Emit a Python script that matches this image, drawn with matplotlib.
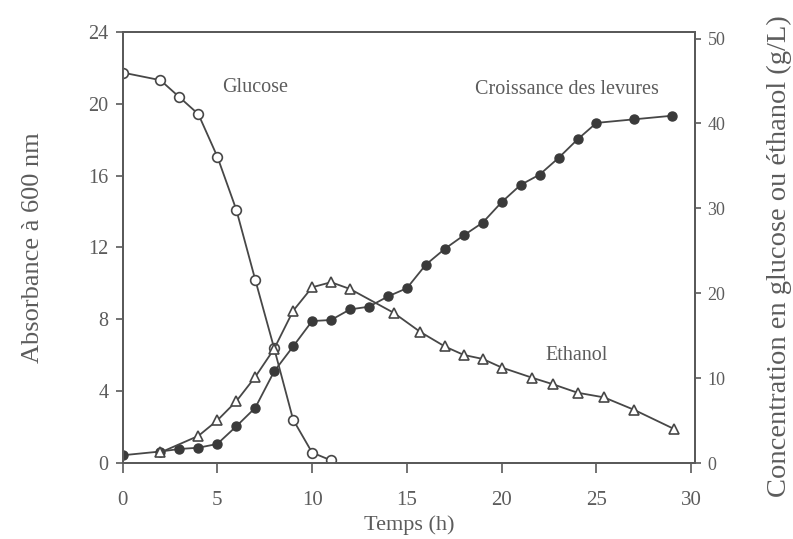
"""Cinétique de fermentation : croissance des levures, glucose et éthanol."""

import matplotlib

matplotlib.use("Agg")
import matplotlib.pyplot as plt

# Croissance des levures (absorbance à 600 nm, axe de gauche).
temps_levures = [0, 2, 3, 4, 5, 6, 7, 8, 9, 10, 11, 12, 13, 14, 15, 16, 17, 18,
                 19, 20, 21, 22, 23, 24, 25, 27, 29]
absorbance = [0.43, 0.64, 0.78, 0.85, 1.06, 2.04, 3.07, 5.1, 6.49, 7.9, 7.96,
              8.55, 8.7, 9.27, 9.73, 11.04, 11.92, 12.67, 13.38, 14.52, 15.48,
              16.05, 16.98, 18.01, 18.93, 19.13, 19.33]

# Glucose (g/L, axe de droite).
temps_glucose = [0, 2, 3, 4, 5, 6, 7, 8, 9, 10, 11]
glucose = [46.0, 45.1, 43.1, 41.1, 36.1, 29.85, 21.6, 13.5, 5.1, 1.23, 0.31]

# Ethanol (g/L, axe de droite).
temps_ethanol = [2, 4, 5, 6, 7, 8, 9, 10, 11, 12, 14.3, 15.7, 17, 18, 19, 20,
                 21.6, 22.7, 24, 25.4, 27, 29.1]
ethanol = [1.24, 3.19, 5.02, 7.27, 10.14, 13.46, 17.93, 20.7, 21.3, 20.5, 17.7,
           15.45, 13.73, 12.73, 12.26, 11.25, 10.05, 9.28, 8.28, 7.73, 6.25, 4.0]

FONT = ["Liberation Serif", "DejaVu Serif"]
TEXT_COLOR = "#5c5c5c"
LINE_COLOR = "#474747"
AXIS_COLOR = "#5a5a5a"

fig = plt.figure(figsize=(7.93, 5.39), dpi=100)
ax = fig.add_axes([0.1545, 0.141, 0.722, 0.80])
ax2 = ax.twinx()

# Courbe de croissance (disques pleins).
ax.plot(temps_levures, absorbance, color=LINE_COLOR, linewidth=1.3, marker="o",
        markersize=6.5, markerfacecolor="#3a3a3a", markeredgecolor="#3a3a3a")

# Glucose (cercles vides) et éthanol (triangles vides).
ax2.plot(temps_glucose, glucose, color=LINE_COLOR, linewidth=1.3, marker="o",
         markersize=7, markerfacecolor="white", markeredgecolor=LINE_COLOR,
         markeredgewidth=1.2)
ax2.plot(temps_ethanol, ethanol, color=LINE_COLOR, linewidth=1.3, marker="^",
         markersize=7.5, markerfacecolor="white", markeredgecolor=LINE_COLOR,
         markeredgewidth=1.2)

ax.set_xlim(0, 30.2)
ax.set_ylim(0, 24)
ax2.set_ylim(0, 50.8)
ax.set_xticks([0, 5, 10, 15, 20, 25, 30])
ax.set_yticks([0, 4, 8, 12, 16, 20, 24])
ax2.set_yticks([0, 10, 20, 30, 40, 50])

for a in (ax, ax2):
    for spine in a.spines.values():
        spine.set_color(AXIS_COLOR)
        spine.set_linewidth(1.4)
    a.tick_params(colors=AXIS_COLOR, labelcolor=TEXT_COLOR, length=5, width=1.2)
    for lab in a.get_xticklabels() + a.get_yticklabels():
        lab.set_fontfamily(FONT)

ax.tick_params(axis="y", labelsize=14.5, pad=5)
ax.tick_params(axis="x", labelsize=15, pad=13, length=7)
ax2.tick_params(axis="y", labelsize=13, pad=5, length=4)

ax.set_xlabel("Temps (h)", fontfamily=FONT, fontsize=16, color=TEXT_COLOR, labelpad=4)
ax.set_ylabel("Absorbance à 600 nm", fontfamily=FONT, fontsize=19,
              color=TEXT_COLOR, labelpad=32)
ax2.set_ylabel("Concentration en glucose ou éthanol (g/L)", fontfamily=FONT,
               fontsize=20.5, color=TEXT_COLOR)
ax2.yaxis.set_label_coords(1.125, 0.48)

# Étiquettes des courbes.
ax.text(7.0, 20.9, "Glucose", fontfamily=FONT, fontsize=14.5, color=TEXT_COLOR,
        ha="center", va="center")
ax.text(23.45, 20.8, "Croissance des levures", fontfamily=FONT, fontsize=14.5,
        color=TEXT_COLOR, ha="center", va="center")
ax.text(23.95, 6.0, "Ethanol", fontfamily=FONT, fontsize=14.5, color=TEXT_COLOR,
        ha="center", va="center")

fig.savefig("out.png", dpi=100)
